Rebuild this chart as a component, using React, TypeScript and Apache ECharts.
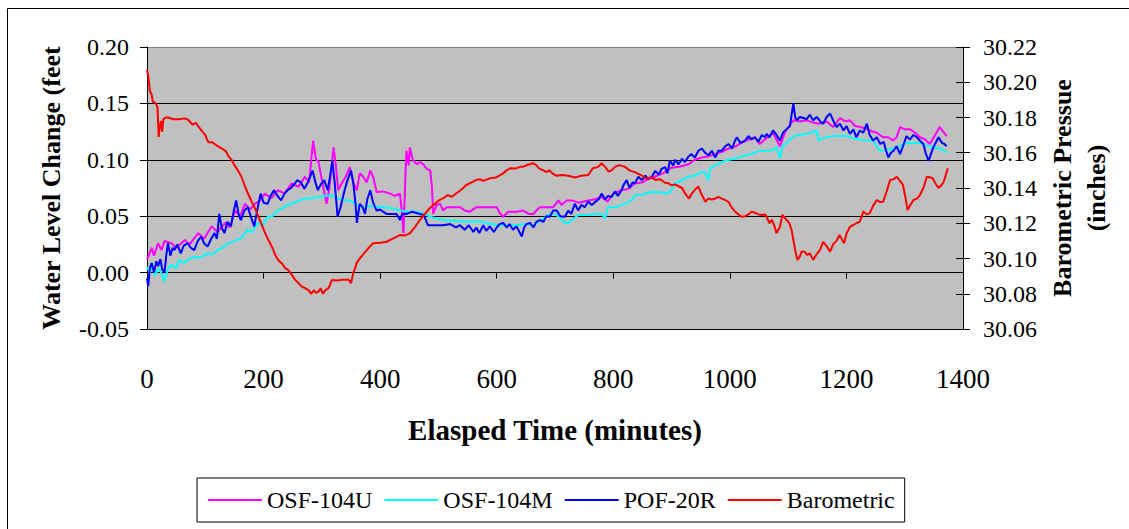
import React, { useEffect, useRef } from "react";
import * as echarts from "echarts";

const SERIF = '"Liberation Serif", "Times New Roman", serif';

// X axis ticks
const xTicks = [0, 200, 400, 600, 800, 1000, 1200, 1400];

const legendNames = ["OSF-104U", "OSF-104M", "POF-20R", "Barometric"];

// OSF-104U (ft)
const osfUTime = [0,2,8,12,19,25,30,42,50,65,73,88,98,111,121,134,142,151,160,168,177,185,194,202,213,225,236,248,260,271,278,285,290,294,300,308,313,320,324,328,335,341,348,354,360,365,371,377,383,388,394,405,417,425,434,438,440,443,445,449,451,456,463,468,474,480,486,489,491,497,503,508,514,525,537,545,554,565,577,588,600,605,611,620,634,645,655,663,668,674,685,697,706,711,720,729,740,757,769,780,790,800,814,825,837,850,860,871,885,900,915,929,940,952,963,975,986,998,1010,1020,1032,1043,1051,1060,1074,1086,1095,1109,1120,1132,1143,1154,1166,1177,1189,1198,1206,1215,1223,1232,1240,1252,1263,1272,1280,1286,1292,1300,1309,1318,1326,1335,1343,1350,1360,1366,1372];
const osfUVal = [0.012,0.014,0.022,0.015,0.026,0.020,0.028,0.026,0.022,0.029,0.025,0.035,0.030,0.041,0.036,0.044,0.040,0.055,0.050,0.061,0.056,0.061,0.064,0.070,0.066,0.073,0.070,0.079,0.076,0.085,0.080,0.117,0.100,0.099,0.082,0.061,0.075,0.111,0.095,0.073,0.080,0.085,0.0935,0.080,0.073,0.088,0.085,0.080,0.0905,0.085,0.0715,0.072,0.070,0.068,0.070,0.050,0.035,0.080,0.108,0.095,0.111,0.100,0.096,0.098,0.096,0.092,0.0905,0.075,0.052,0.060,0.061,0.055,0.058,0.058,0.058,0.055,0.054,0.058,0.058,0.058,0.058,0.053,0.0495,0.054,0.054,0.055,0.052,0.052,0.055,0.058,0.058,0.058,0.064,0.060,0.064,0.064,0.062,0.064,0.065,0.067,0.063,0.070,0.073,0.074,0.079,0.080,0.083,0.085,0.088,0.093,0.094,0.096,0.100,0.102,0.103,0.105,0.107,0.110,0.112,0.115,0.118,0.120,0.114,0.118,0.124,0.112,0.125,0.135,0.134,0.135,0.133,0.132,0.134,0.129,0.137,0.134,0.135,0.130,0.129,0.128,0.126,0.124,0.120,0.120,0.117,0.120,0.129,0.127,0.127,0.124,0.120,0.118,0.114,0.120,0.129,0.125,0.121];

// OSF-104M (ft)
const osfMTime = [0,5,10,13,20,26,30,35,41,50,55,64,72,81,90,104,112,121,130,138,146,155,163,172,180,190,198,207,215,224,235,247,258,270,282,293,305,316,325,339,348,360,371,385,405,420,434,450,463,475,486,497,508,525,548,560,577,590,605,620,634,650,663,672,680,691,700,710,717,723,732,740,755,769,780,786,791,805,815,826,833,837,850,860,871,885,894,900,906,918,929,940,950,957,963,966,969,978,986,998,1009,1020,1037,1050,1060,1070,1080,1086,1090,1097,1109,1120,1132,1140,1149,1152,1160,1177,1190,1200,1212,1223,1235,1246,1252,1258,1270,1280,1292,1303,1315,1326,1338,1349,1360,1372];
const osfMVal = [0.005,0.000,0.008,-0.003,0.004,-0.002,-0.008,0.002,0.007,0.004,0.011,0.0085,0.012,0.014,0.013,0.017,0.016,0.020,0.022,0.026,0.027,0.029,0.031,0.038,0.036,0.044,0.042,0.0495,0.050,0.055,0.058,0.061,0.063,0.0656,0.066,0.067,0.068,0.0686,0.066,0.064,0.064,0.060,0.058,0.059,0.058,0.057,0.055,0.054,0.054,0.052,0.0495,0.048,0.0466,0.046,0.045,0.045,0.045,0.043,0.042,0.042,0.042,0.043,0.042,0.045,0.048,0.052,0.052,0.048,0.044,0.044,0.048,0.051,0.051,0.052,0.052,0.048,0.058,0.058,0.060,0.0627,0.065,0.0686,0.069,0.071,0.0715,0.071,0.070,0.074,0.079,0.082,0.085,0.086,0.089,0.089,0.082,0.092,0.0935,0.096,0.098,0.100,0.101,0.103,0.105,0.108,0.108,0.108,0.111,0.101,0.112,0.115,0.121,0.122,0.123,0.124,0.126,0.117,0.119,0.121,0.121,0.121,0.119,0.118,0.117,0.117,0.112,0.108,0.109,0.110,0.112,0.115,0.115,0.115,0.113,0.111,0.110,0.107];

// POF-20R (ft)
const pofTime = [0,2,5,8,12,16,19,23,26,30,33,36,40,44,47,52,58,63,70,75,81,87,93,98,104,110,116,120,124,128,133,138,144,149,153,157,161,167,173,178,184,189,195,200,207,212,218,224,230,236,241,247,252,258,264,270,276,280,284,288,293,298,304,310,314,318,322,327,332,339,344,350,354,358,360,365,370,374,378,383,388,394,400,405,411,420,428,434,438,445,455,468,475,482,490,500,508,520,530,537,545,552,560,565,570,577,582,588,595,600,605,611,617,622,628,634,640,643,647,651,657,663,668,674,680,685,691,697,703,709,717,723,728,734,740,745,751,757,763,769,775,780,786,791,797,803,808,814,818,823,828,833,837,843,849,855,860,866,872,878,883,889,893,897,903,906,912,918,923,929,934,940,946,952,958,963,969,975,980,986,992,998,1004,1008,1012,1018,1026,1032,1037,1043,1049,1055,1060,1063,1068,1074,1080,1086,1091,1097,1103,1106,1109,1112,1115,1120,1126,1132,1137,1143,1149,1155,1160,1166,1172,1178,1183,1189,1195,1200,1206,1212,1217,1223,1229,1235,1240,1246,1252,1258,1264,1268,1272,1276,1281,1286,1292,1297,1303,1309,1315,1321,1326,1332,1336,1341,1345,1349,1354,1358,1364,1368,1372];
const pofVal = [-0.005,-0.012,0.004,0.0085,0.000,0.010,0.0056,0.012,0.003,0.000,0.015,0.026,0.015,0.022,0.020,0.025,0.017,0.024,0.026,0.022,0.020,0.028,0.032,0.026,0.023,0.030,0.035,0.030,0.052,0.040,0.035,0.045,0.041,0.055,0.064,0.052,0.0466,0.055,0.058,0.050,0.041,0.055,0.070,0.062,0.061,0.068,0.073,0.068,0.064,0.070,0.073,0.075,0.078,0.082,0.080,0.0744,0.080,0.085,0.0905,0.082,0.073,0.078,0.082,0.073,0.085,0.099,0.080,0.0495,0.058,0.073,0.082,0.0905,0.079,0.060,0.044,0.061,0.058,0.052,0.065,0.073,0.062,0.055,0.056,0.054,0.052,0.052,0.052,0.0466,0.052,0.052,0.054,0.052,0.051,0.042,0.042,0.042,0.042,0.043,0.040,0.042,0.038,0.042,0.036,0.040,0.035,0.042,0.037,0.041,0.036,0.040,0.043,0.044,0.040,0.043,0.038,0.041,0.035,0.032,0.040,0.043,0.044,0.040,0.045,0.0466,0.045,0.050,0.0495,0.055,0.055,0.050,0.0495,0.055,0.052,0.061,0.055,0.060,0.058,0.063,0.060,0.0627,0.065,0.070,0.065,0.068,0.067,0.072,0.068,0.073,0.078,0.082,0.075,0.080,0.079,0.085,0.082,0.086,0.083,0.085,0.090,0.087,0.092,0.0935,0.088,0.099,0.095,0.100,0.096,0.101,0.098,0.103,0.105,0.102,0.108,0.110,0.106,0.104,0.108,0.102,0.108,0.108,0.112,0.114,0.110,0.116,0.120,0.115,0.117,0.121,0.118,0.120,0.116,0.122,0.120,0.123,0.120,0.126,0.122,0.117,0.124,0.127,0.130,0.140,0.150,0.138,0.135,0.138,0.137,0.136,0.140,0.135,0.138,0.134,0.132,0.138,0.141,0.134,0.129,0.132,0.126,0.130,0.123,0.127,0.120,0.126,0.124,0.132,0.122,0.117,0.120,0.114,0.116,0.108,0.102,0.106,0.108,0.112,0.105,0.112,0.121,0.118,0.122,0.120,0.117,0.114,0.106,0.099,0.105,0.111,0.116,0.120,0.115,0.114,0.112];

// Barometric (inches)
const baroTime = [0,2,5,8,10,15,18,20,22,24,26,28,32,36,45,55,65,71,78,84,88,95,100,105,112,120,128,135,140,145,150,156,162,168,173,180,186,191,197,202,208,214,220,225,232,237,242,248,254,260,266,272,277,282,286,290,294,298,302,306,311,314,317,325,335,346,350,354,357,360,365,377,383,388,400,411,420,434,442,451,460,468,476,485,494,501,508,516,523,531,539,548,556,565,571,577,588,599,611,617,623,632,640,646,652,663,668,673,680,685,690,697,702,712,723,734,745,757,765,774,780,786,792,797,803,810,820,828,837,843,849,855,866,872,880,889,895,900,906,912,918,923,930,935,940,946,952,958,963,969,975,980,986,992,998,1003,1009,1015,1020,1026,1032,1037,1043,1049,1055,1060,1063,1068,1072,1077,1080,1086,1090,1097,1102,1106,1109,1112,1116,1120,1123,1128,1133,1137,1143,1148,1155,1160,1166,1172,1177,1183,1188,1192,1196,1200,1206,1212,1217,1223,1229,1235,1240,1246,1252,1258,1263,1269,1275,1281,1286,1292,1297,1301,1305,1309,1315,1321,1326,1332,1338,1344,1348,1352,1358,1364,1367,1374];
const baroVal = [30.207,30.204,30.195,30.193,30.189,30.188,30.186,30.169,30.175,30.178,30.172,30.179,30.180,30.180,30.179,30.179,30.1795,30.1786,30.176,30.177,30.175,30.172,30.170,30.166,30.166,30.164,30.1625,30.161,30.158,30.156,30.153,30.150,30.1464,30.141,30.137,30.132,30.128,30.1237,30.119,30.115,30.1106,30.107,30.102,30.0992,30.097,30.0945,30.0935,30.091,30.088,30.086,30.084,30.083,30.082,30.080,30.082,30.0805,30.0812,30.083,30.080,30.082,30.083,30.085,30.0878,30.0875,30.088,30.088,30.086,30.092,30.0944,30.0977,30.100,30.1048,30.107,30.1086,30.109,30.1095,30.111,30.1133,30.113,30.1143,30.118,30.1218,30.125,30.1285,30.131,30.133,30.1342,30.136,30.135,30.137,30.139,30.1417,30.143,30.1446,30.145,30.144,30.1455,30.146,30.1483,30.150,30.1512,30.151,30.152,30.1521,30.153,30.154,30.153,30.151,30.150,30.149,30.150,30.148,30.147,30.1474,30.147,30.146,30.147,30.1474,30.1512,30.152,30.154,30.152,30.1493,30.150,30.152,30.153,30.152,30.150,30.149,30.148,30.147,30.1455,30.146,30.1446,30.145,30.143,30.1427,30.1415,30.142,30.141,30.140,30.137,30.134,30.137,30.139,30.1408,30.136,30.1322,30.134,30.1335,30.134,30.135,30.134,30.1332,30.132,30.129,30.1266,30.125,30.1237,30.124,30.125,30.1266,30.126,30.125,30.1247,30.125,30.1237,30.120,30.122,30.118,30.1143,30.118,30.1247,30.122,30.120,30.116,30.1105,30.105,30.0992,30.101,30.104,30.1039,30.102,30.103,30.0992,30.102,30.105,30.1095,30.107,30.1039,30.108,30.110,30.1133,30.111,30.1086,30.114,30.118,30.119,30.120,30.1209,30.1266,30.125,30.1257,30.130,30.1332,30.132,30.1322,30.138,30.1446,30.145,30.1464,30.144,30.1417,30.135,30.1275,30.130,30.1332,30.134,30.136,30.140,30.1464,30.146,30.1455,30.143,30.140,30.142,30.1436,30.1512,30.1534];

const pairs = (t: number[], v: number[]) => t.map((x, i) => [x, v[i]]);

export default function App() {
  const ref = useRef<HTMLDivElement>(null);
  useEffect(() => {
    if (!ref.current) return;
    const chart = echarts.init(ref.current, undefined, { renderer: "svg" });
    const lineSeries = (name: string, color: string, data: number[][], yIdx: number, w: number) => ({
      name,
      type: "line",
      yAxisIndex: yIdx,
      data,
      showSymbol: false,
      symbol: "none",
      lineStyle: { color, width: w },
      itemStyle: { color },
      emphasis: { disabled: true },
    });
    chart.setOption({
      animation: false,
      backgroundColor: "#ffffff",
      textStyle: { fontFamily: SERIF },
      grid: {
        left: 147,
        right: 166,
        top: 47,
        bottom: 200,
        show: true,
        backgroundColor: "#c0c0c0",
        borderWidth: 0,
      },
      legend: {
        data: legendNames,
        left: 197,
        top: 478,
        orient: "horizontal",
        padding: [10, 10, 10, 11],
        itemGap: 12,
        itemWidth: 54,
        itemHeight: 2,
        icon: "rect",
        borderColor: "#000",
        borderWidth: 1,
        textStyle: { fontFamily: SERIF, fontSize: 24, color: "#000" },
      },
      xAxis: {
        type: "value",
        min: xTicks[0],
        max: xTicks[xTicks.length - 1],
        interval: 200,
        axisLine: { show: true, lineStyle: { color: "#000", width: 1 } },
        axisTick: { show: true, inside: false, length: 6, lineStyle: { color: "#000" } },
        axisLabel: {
          fontFamily: SERIF,
          fontSize: 27,
          color: "#000",
          margin: 36,
          formatter: (v: number) => String(v),
        },
        splitLine: { show: false },
      },
      yAxis: [
        {
          type: "value",
          min: -0.05,
          max: 0.2,
          interval: 0.05,
          axisLine: { show: true, lineStyle: { color: "#000", width: 1 } },
          axisTick: { show: true, inside: false, length: 7, lineStyle: { color: "#000" } },
          axisLabel: {
            fontFamily: SERIF,
            fontSize: 24,
            color: "#000",
            margin: 18,
            formatter: (v: number) => v.toFixed(2),
          },
          splitLine: {
            show: true,
            lineStyle: { color: ["#000", "#000", "#000", "#000", "#000", "#808080"], width: 1 },
          },
        },
        {
          type: "value",
          position: "right",
          min: 30.06,
          max: 30.22,
          interval: 0.02,
          axisLine: { show: true, lineStyle: { color: "#000", width: 1 } },
          axisTick: { show: true, inside: false, length: 7, lineStyle: { color: "#000" } },
          axisLabel: {
            fontFamily: SERIF,
            fontSize: 24,
            color: "#000",
            margin: 20,
            formatter: (v: number) => v.toFixed(2),
          },
          splitLine: { show: false },
        },
        {
          type: "value",
          position: "right",
          min: 30.06,
          max: 30.22,
          interval: 0.02,
          axisLine: { show: false },
          axisTick: { show: true, inside: true, length: 7, lineStyle: { color: "#000" } },
          axisLabel: { show: false },
          splitLine: { show: false },
        },
      ],
      graphic: [
        { type: "line", shape: { x1: 7.5, y1: 8.5, x2: 1129, y2: 8.5 }, style: { stroke: "#000", lineWidth: 1 } },
        { type: "line", shape: { x1: 7.5, y1: 8.5, x2: 7.5, y2: 529 }, style: { stroke: "#000", lineWidth: 1 } },
        {
          type: "text",
          x: 51,
          y: 188,
          rotation: Math.PI / 2,
          style: {
            text: "Water Level Change (feet",
            fontFamily: SERIF,
            fontSize: 26,
            fontWeight: "bold",
            fill: "#000",
            textAlign: "center",
            textVerticalAlign: "middle",
          },
        },
        {
          type: "text",
          x: 1062,
          y: 188,
          rotation: Math.PI / 2,
          style: {
            text: "Barometric Pressue",
            fontFamily: SERIF,
            fontSize: 26,
            fontWeight: "bold",
            fill: "#000",
            textAlign: "center",
            textVerticalAlign: "middle",
          },
        },
        {
          type: "text",
          x: 1096,
          y: 188,
          rotation: Math.PI / 2,
          style: {
            text: "(inches)",
            fontFamily: SERIF,
            fontSize: 26,
            fontWeight: "bold",
            fill: "#000",
            textAlign: "center",
            textVerticalAlign: "middle",
          },
        },
        {
          type: "text",
          x: 555,
          y: 430,
          style: {
            text: "Elasped Time (minutes)",
            fontFamily: SERIF,
            fontSize: 29,
            fontWeight: "bold",
            fill: "#000",
            textAlign: "center",
            textVerticalAlign: "middle",
          },
        },
      ],
      series: [
        lineSeries(legendNames[0], "#ff00ff", pairs(osfUTime, osfUVal), 0, 2),
        lineSeries(legendNames[1], "#00ffff", pairs(osfMTime, osfMVal), 0, 2),
        lineSeries(legendNames[2], "#0000ff", pairs(pofTime, pofVal), 0, 2),
        lineSeries(legendNames[3], "#ff0000", pairs(baroTime, baroVal), 1, 2),
      ],
    });
    return () => chart.dispose();
  }, []);
  return (
    <div
      ref={ref}
      style={{ position: "fixed", left: 0, top: 0, width: 1129, height: 529 }}
    />
  );
}
